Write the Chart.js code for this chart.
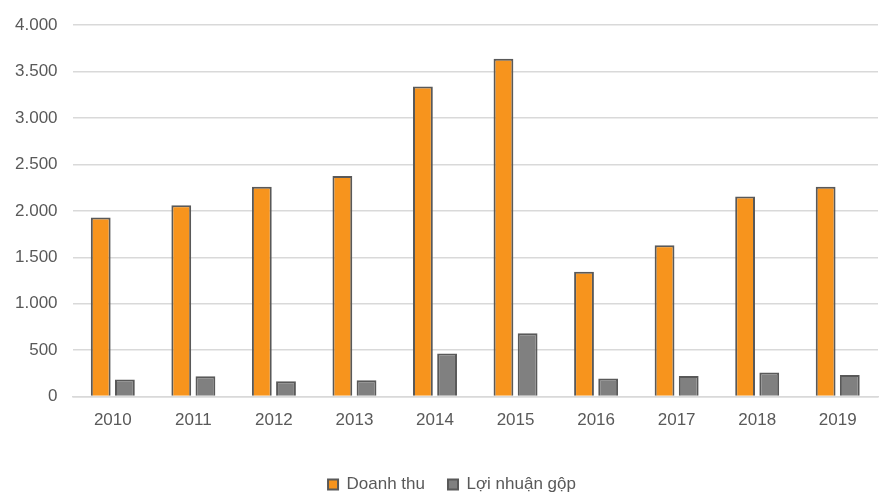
<!DOCTYPE html>
<html lang="vi">
<head>
<meta charset="UTF-8">
<title>Doanh thu và lợi nhuận gộp</title>
<script src="https://cdn.jsdelivr.net/npm/chart.js@4"></script>
<style>
  html, body { margin: 0; padding: 0; background: #ffffff; overflow: hidden; }
  /* canvas hơi cao hơn cửa sổ để chú giải nằm sát đáy như bản gốc */
  #wrap { width: 886px; height: 503px; }
</style>
</head>
<body>
<div id="wrap"><canvas id="chart"></canvas></div>
<script>
  // Dữ liệu
  const years = ['2010', '2011', '2012', '2013', '2014', '2015', '2016', '2017', '2018', '2019'];
  const doanhThu = [1930, 2060, 2260, 2375, 3340, 3640, 1345, 1630, 2155, 2260];
  const loiNhuanGop = [185, 218, 164, 175, 464, 683, 196, 222, 260, 232];
  const yTicks = [0, 500, 1000, 1500, 2000, 2500, 3000, 3500, 4000];

  const fmt = v => String(v).replace(/\B(?=(\d{3})+(?!\d))/g, '.');

  Chart.defaults.font.family = '"Liberation Sans", Arial, sans-serif';
  Chart.defaults.font.size = 17;
  Chart.defaults.color = '#595959';

  // dời chú giải sang phải một chút cho giống bản gốc
  const legendShift = {
    id: 'legendShift',
    afterLayout(chart) {
      chart.legend.left += 13;
      chart.legend.right += 13;
    }
  };

  new Chart(document.getElementById('chart'), {
    type: 'bar',
    data: {
      labels: years,
      datasets: [
        {
          label: 'Doanh thu',
          data: doanhThu,
          backgroundColor: '#F7941D',
          borderColor: '#595959',
          borderWidth: 2,
          categoryPercentage: 0.6,
          barPercentage: 0.82
        },
        {
          label: 'Lợi nhuận gộp',
          data: loiNhuanGop,
          backgroundColor: '#808080',
          borderColor: '#595959',
          borderWidth: 2,
          categoryPercentage: 0.6,
          barPercentage: 0.82
        }
      ]
    },
    options: {
      responsive: true,
      maintainAspectRatio: false,
      animation: false,
      layout: { padding: { top: 13, right: 8, left: 0, bottom: 0 } },
      plugins: {
        tooltip: { enabled: false },
        legend: {
          position: 'bottom',
          title: { display: true, text: '', font: { size: 10 }, padding: 2 },
          labels: {
            boxWidth: 10,
            boxHeight: 10,
            padding: 23,
            color: '#595959',
            font: { size: 17 }
          }
        }
      },
      scales: {
        x: {
          grid: { display: false },
          border: { color: '#d9d9d9', width: 1.5 },
          ticks: { padding: 6, color: '#595959' }
        },
        y: {
          min: 0,
          max: 4000,
          afterBuildTicks: axis => { axis.ticks = yTicks.map(v => ({ value: v })); },
          grid: { color: '#d9d9d9', lineWidth: 1.5, drawTicks: false },
          border: { display: false },
          ticks: { padding: 15, color: '#595959', callback: v => fmt(v) }
        }
      }
    },
    plugins: [legendShift]
  });
</script>
</body>
</html>
